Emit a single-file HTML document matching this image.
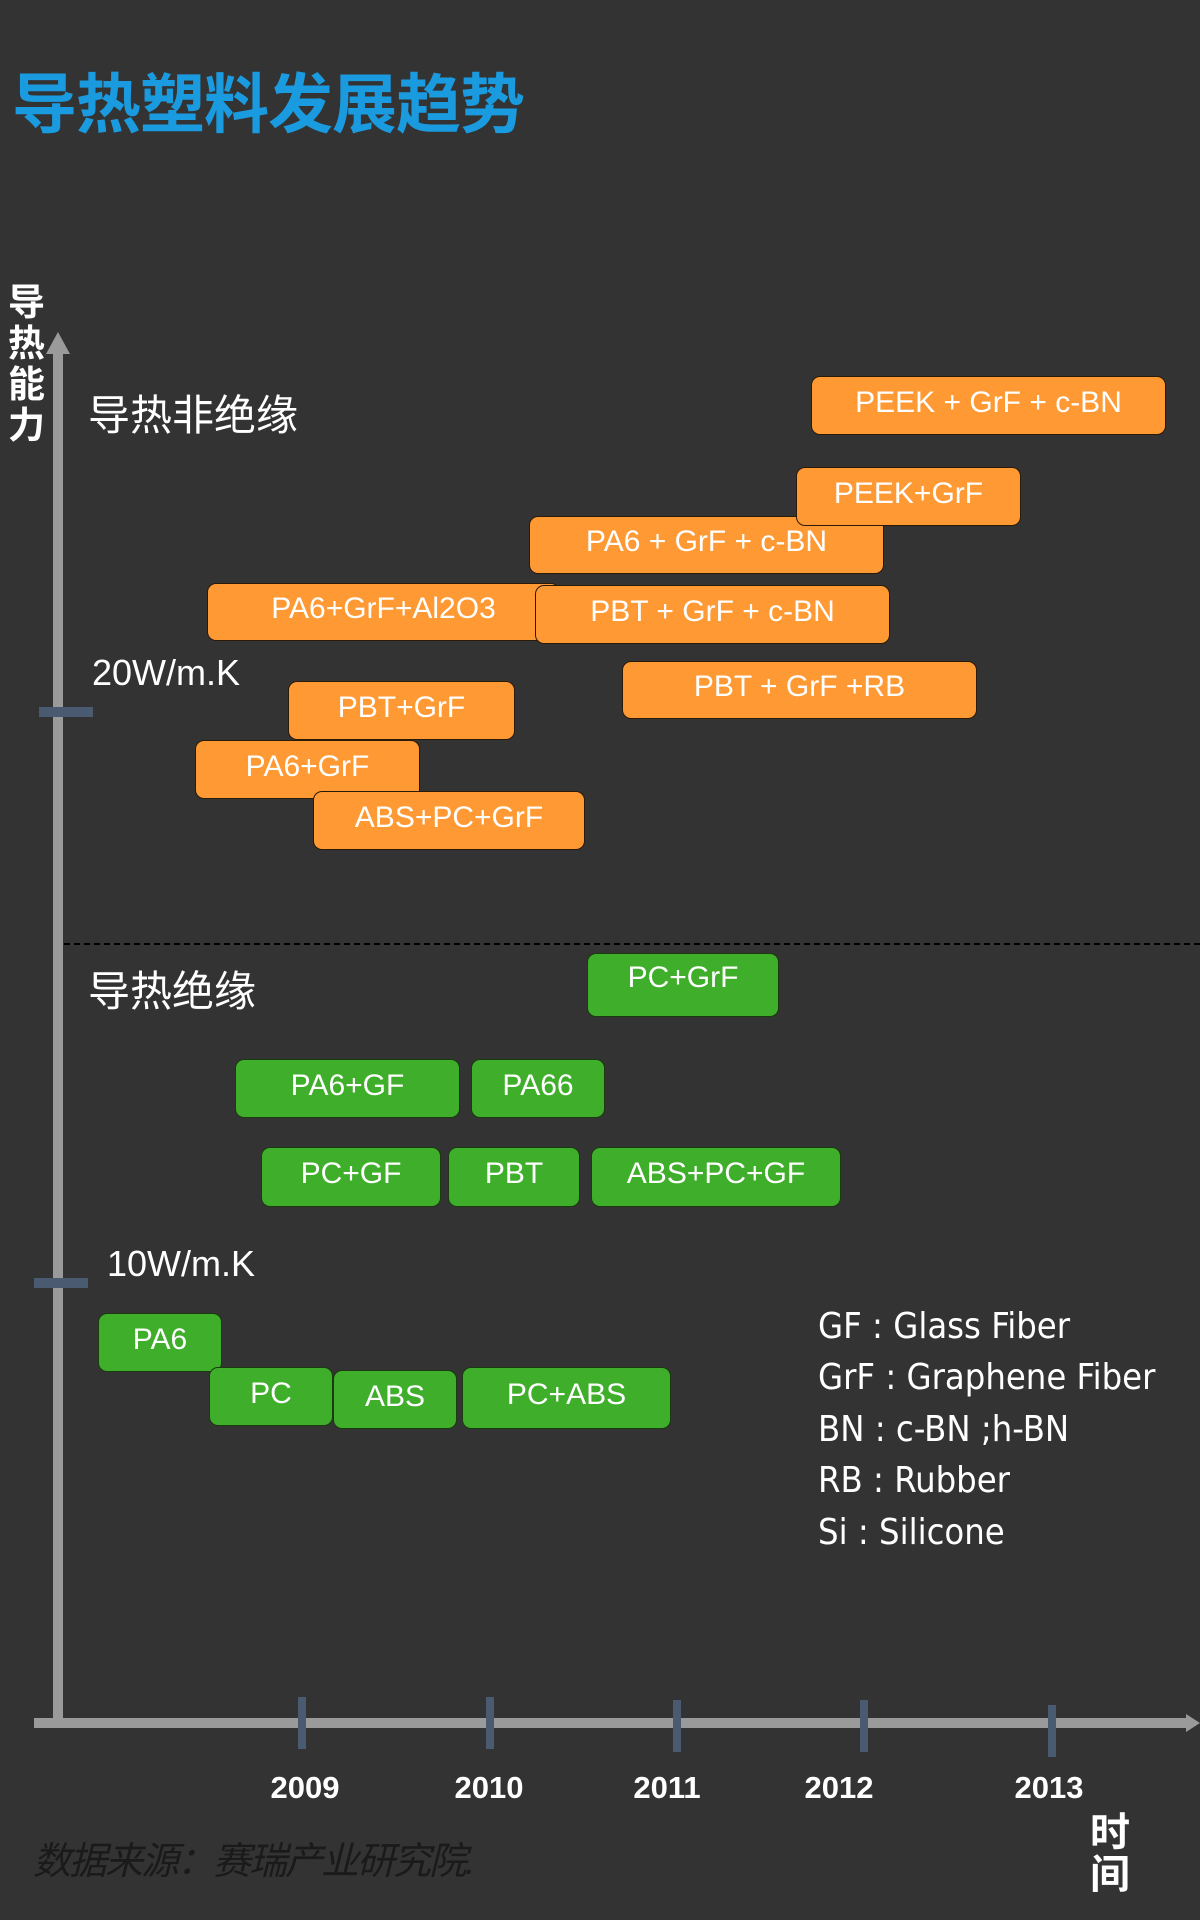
<!DOCTYPE html>
<html><head><meta charset="utf-8"><style>
html,body{margin:0;padding:0}
body{width:1200px;height:1920px;background:#333333;position:relative;overflow:hidden;font-family:"Liberation Sans","Noto Sans CJK SC",sans-serif;color:#fff}
.a{position:absolute}
.b{position:absolute;box-sizing:border-box;border:1.5px solid #2a1a08;border-radius:9px;display:flex;align-items:center;justify-content:center;font-size:30px;color:#fff;padding-bottom:6px;white-space:nowrap}
.o{background:#ff9933}
.g{background:#3fae2a;border-color:#1a3a10}
.t{position:absolute;background:#4a5a70}
.y{position:absolute;font-weight:bold;font-size:31px;transform:translateX(-50%);top:1770px}
.lg{position:absolute;left:818px;font-size:36px;font-family:"DejaVu Sans Condensed","Liberation Sans",sans-serif}
</style></head><body>
<div class="a" style="left:12px;top:52px;font-size:65px;font-weight:bold;color:#1a9be0;letter-spacing:-1px">导热塑料发展趋势</div>

<div class="a" style="left:53px;top:350px;width:10px;height:1375px;background:#9a9a9a"></div>
<svg class="a" style="left:46px;top:332px" width="24" height="22"><polygon points="12,0 24,22 0,22" fill="#9a9a9a"/></svg>
<div class="a" style="left:8px;top:282px;width:40px;font-size:37px;line-height:41px;font-weight:bold">导<br>热<br>能<br>力</div>

<div class="a" style="left:88px;top:382px;font-size:42px">导热非绝缘</div>
<div class="a" style="left:92px;top:652px;font-size:36px">20W/m.K</div>
<div class="t" style="left:39px;top:707px;width:54px;height:10px"></div>
<div class="a" style="left:64px;top:943px;width:1136px;border-top:2px dashed #000"></div>
<div class="a" style="left:88px;top:958px;font-size:42px">导热绝缘</div>
<div class="a" style="left:107px;top:1243px;font-size:36px">10W/m.K</div>
<div class="t" style="left:34px;top:1278px;width:54px;height:10px"></div>

<div class="a" style="left:34px;top:1718px;width:1156px;height:10px;background:#9a9a9a"></div>
<svg class="a" style="left:1186px;top:1714px" width="14" height="18"><polygon points="0,0 14,9 0,18" fill="#9a9a9a"/></svg>
<div class="t" style="left:298px;top:1697px;width:8px;height:52px"></div>
<div class="t" style="left:486px;top:1697px;width:8px;height:52px"></div>
<div class="t" style="left:673px;top:1700px;width:8px;height:52px"></div>
<div class="t" style="left:860px;top:1700px;width:8px;height:52px"></div>
<div class="t" style="left:1048px;top:1705px;width:8px;height:52px"></div>
<div class="y" style="left:305px">2009</div>
<div class="y" style="left:489px">2010</div>
<div class="y" style="left:667px">2011</div>
<div class="y" style="left:839px">2012</div>
<div class="y" style="left:1049px">2013</div>
<div class="a" style="left:1090px;top:1812px;font-size:40px;line-height:42px;font-weight:bold">时<br>间</div>
<div class="a" style="left:33px;top:1830px;font-size:38px;font-style:italic;color:#1a1a1a;letter-spacing:-2px">数据来源：赛瑞产业研究院.</div>

<div class="lg" style="top:1306px">GF : Glass Fiber</div>
<div class="lg" style="top:1357px">GrF : Graphene Fiber</div>
<div class="lg" style="top:1409px">BN : c-BN ;h-BN</div>
<div class="lg" style="top:1460px">RB : Rubber</div>
<div class="lg" style="top:1512px">Si : Silicone</div>

<div class="b o" style="left:811px;top:376px;width:355px;height:59px">PEEK + GrF + c-BN</div>
<div class="b o" style="left:529px;top:516px;width:355px;height:58px">PA6 + GrF + c-BN</div>
<div class="b o" style="left:796px;top:467px;width:225px;height:59px">PEEK+GrF</div>
<div class="b o" style="left:207px;top:583px;width:353px;height:58px">PA6+GrF+Al2O3</div>
<div class="b o" style="left:535px;top:585px;width:355px;height:59px">PBT + GrF + c-BN</div>
<div class="b o" style="left:622px;top:661px;width:355px;height:58px">PBT + GrF +RB</div>
<div class="b o" style="left:288px;top:681px;width:227px;height:59px">PBT+GrF</div>
<div class="b o" style="left:195px;top:740px;width:225px;height:59px">PA6+GrF</div>
<div class="b o" style="left:313px;top:791px;width:272px;height:59px">ABS+PC+GrF</div>

<div class="b g" style="left:587px;top:953px;width:192px;height:64px;padding-bottom:14px">PC+GrF</div>
<div class="b g" style="left:235px;top:1059px;width:225px;height:59px">PA6+GF</div>
<div class="b g" style="left:471px;top:1059px;width:134px;height:59px">PA66</div>
<div class="b g" style="left:261px;top:1147px;width:180px;height:60px">PC+GF</div>
<div class="b g" style="left:448px;top:1147px;width:132px;height:60px">PBT</div>
<div class="b g" style="left:591px;top:1147px;width:250px;height:60px">ABS+PC+GF</div>
<div class="b g" style="left:98px;top:1313px;width:124px;height:59px">PA6</div>
<div class="b g" style="left:209px;top:1367px;width:124px;height:59px">PC</div>
<div class="b g" style="left:333px;top:1370px;width:124px;height:59px">ABS</div>
<div class="b g" style="left:462px;top:1367px;width:209px;height:62px">PC+ABS</div>
</body></html>
